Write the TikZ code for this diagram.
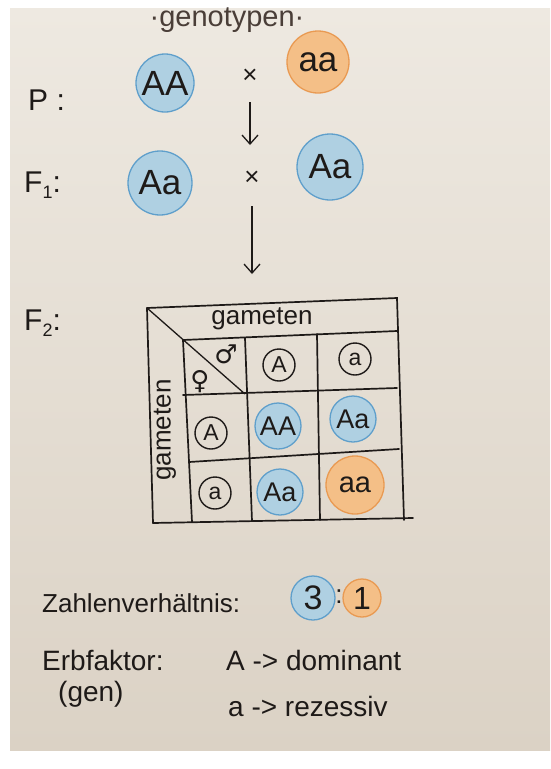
\documentclass[tikz,border=0pt]{standalone}
\usepackage{fontspec}
\setmainfont{Liberation Sans}
\newfontfamily\symfont{DejaVu Sans}
\usetikzlibrary{arrows.meta}
\definecolor{paper}{HTML}{EEE9E1}
\definecolor{paperdark}{HTML}{DBD2C5}
\definecolor{bluefill}{HTML}{AFD0E2}
\definecolor{blueline}{HTML}{5F9FCB}
\definecolor{orfill}{HTML}{F4BF87}
\definecolor{orline}{HTML}{E99A52}
\definecolor{ink}{HTML}{1E1A18}
\definecolor{inklight}{HTML}{4A3E38}
\tikzset{
  fs/.style={font=\fontsize{#1}{#1}\selectfont},
  lbl/.style={fs=26, text=ink, inner sep=0pt},
  bluegen/.style={circle, fill=bluefill, draw=blueline, line width=1.3pt, inner sep=0pt, text=ink},
  orangegen/.style={circle, fill=orfill, draw=orline, line width=1.3pt, inner sep=0pt, text=ink},
  gamcirc/.style={circle, draw=ink, line width=1.4pt, minimum size=32pt, inner sep=0pt, fs=23, text=ink},
  grid/.style={draw=ink, line width=1.7pt, line cap=round},
  arr/.style={draw=ink, line width=1.3pt, -{Straight Barb[length=9pt,width=16pt,line width=1.3pt]}}
}
\begin{document}
\begin{tikzpicture}[x=1pt,y=-1pt]
\useasboundingbox (0,0) rectangle (550,769);
\fill[white] (0,0) rectangle (550,769);
\shade[top color=paper, bottom color=paperdark] (10,8) rectangle (550,750);

% header
\node[fs=29, text=inklight] (geno) at (227,20) {·genotypen·};

% P row
\node[lbl, fs=30, anchor=west] (P) at (28,100) {P :};
\node[bluegen, minimum size=58pt, fs=35] (pAA) at (165,83) {AA};
\node[fs=26, text=ink] (x1) at (250,76) {×};
\node[orangegen, minimum size=62pt, fs=35] (paa) at (318,62) {aa};
\coordinate (a1s) at (250,102);
\coordinate (a1e) at (250,145);
\draw[arr] (a1s) -- (a1e);

% F1 row
\node[lbl, fs=30, anchor=west] (F1) at (24,185) {F\raisebox{-6pt}{\fontsize{18}{18}\selectfont 1}:};
\node[bluegen, minimum size=64pt, fs=35] (f1a) at (160,183) {Aa};
\node[fs=26, text=ink] (x2) at (252,178) {×};
\node[bluegen, minimum size=66pt, fs=35] (f1b) at (330,167) {Aa};
\coordinate (a2s) at (252,206);
\coordinate (a2e) at (252,274);
\draw[arr] (a2s) -- (a2e);

% F2
\node[lbl, fs=30, anchor=west] (F2) at (24,323) {F\raisebox{-6pt}{\fontsize{18}{18}\selectfont 2}:};

% Punnett grid corners
\coordinate (o1) at (147,308); \coordinate (o2) at (397,298);
\coordinate (o3) at (404,520); \coordinate (o4) at (153,523);
\coordinate (ob) at (413,518);
\coordinate (t1) at (183,340); \coordinate (t2) at (397,331);
\coordinate (m1) at (183,395); \coordinate (m2) at (397,388);
\coordinate (n1) at (189,462); \coordinate (n2) at (399,449);
\coordinate (b1) at (192,522);
\coordinate (v2t) at (245,338); \coordinate (v2b) at (252,521);
\coordinate (v3t) at (317,334); \coordinate (v3b) at (320,520);
\coordinate (dg) at (245,394);
\draw[grid] (o1) -- (o2) -- (o3);
\draw[grid] (o1) -- (o4);
\draw[grid] (o4) -- (ob);
\draw[grid] (t1) -- (t2);
\draw[grid] (m1) -- (m2);
\draw[grid] (n1) -- (n2);
\draw[grid] (t1) -- (b1);
\draw[grid] (v2t) -- (v2b);
\draw[grid] (v3t) -- (v3b);
\draw[draw=ink, line width=1.3pt] (o1) -- (dg);

\node[fs=26, text=ink] (gtop) at (262,319) {gameten};
\node[fs=26, text=ink, rotate=90] (gleft) at (165,430) {gameten};
\node[text=ink, font=\symfont\fontsize{26}{26}\selectfont] (male) at (226,354) {♂};
\node[text=ink, font=\symfont\fontsize{26}{26}\selectfont] (female) at (200,382) {♀};

\node[gamcirc] (gA1) at (279,365) {A};
\node[gamcirc] (ga1) at (355,359) {a};
\node[gamcirc] (gA2) at (211,433) {A};
\node[gamcirc] (ga2) at (215,493) {a};

\node[bluegen, minimum size=46pt, fs=27] (cAA) at (278,426) {AA};
\node[bluegen, minimum size=46pt, fs=27] (cAa1) at (353,419) {Aa};
\node[bluegen, minimum size=46pt, fs=27] (cAa2) at (280,492) {Aa};
\node[orangegen, minimum size=58pt, fs=29] (caa) at (355,485) {aa};

% bottom
\node[lbl, anchor=west] (zv) at (42,603) {Zahlenverhältnis:};
\node[bluegen, minimum size=44pt, fs=34] (r3) at (313,598) {3};
\node[lbl] (colon) at (339,597) {:};
\node[orangegen, minimum size=38pt, fs=32] (r1) at (362,598) {1};

\node[lbl, fs=28, anchor=west] (erb) at (42,660) {Erbfaktor:};
\node[lbl, fs=28, anchor=west] (gen) at (58,694) {(gen)};
\node[lbl, fs=28, anchor=west] (dom) at (226,660) {A -> dominant};
\node[lbl, fs=28, anchor=west] (rez) at (228,706) {a -> rezessiv};
\end{tikzpicture}
\end{document}
